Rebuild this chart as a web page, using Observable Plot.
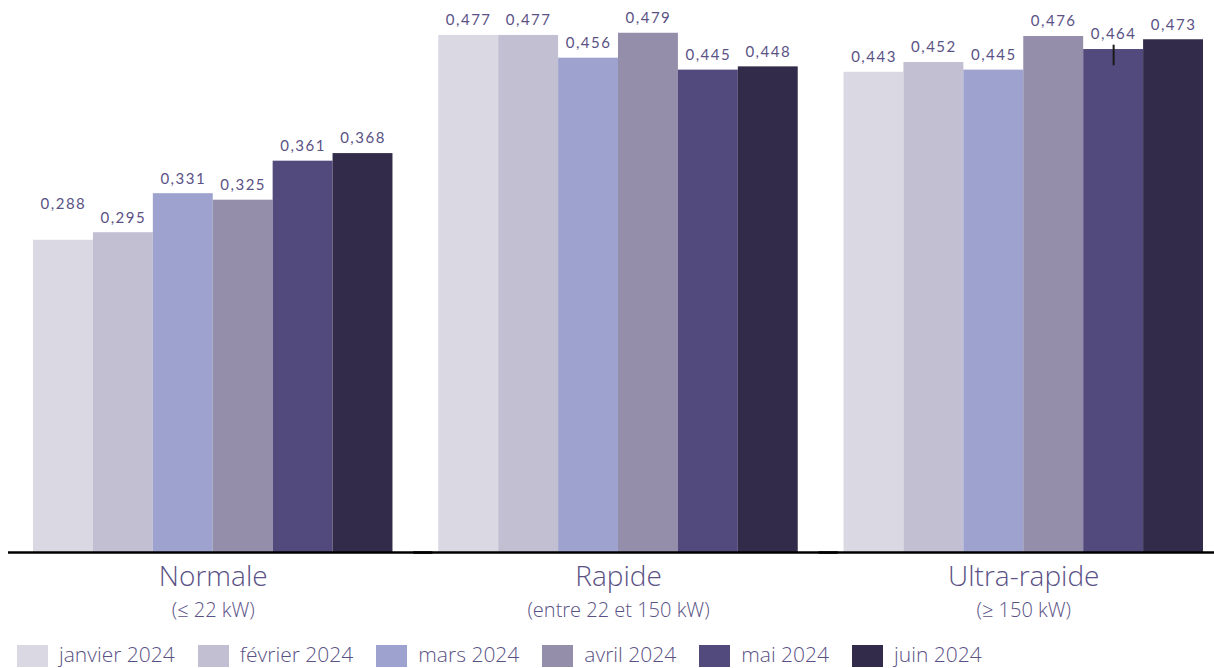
<!DOCTYPE html>
<html><head><meta charset="utf-8">
<script src="https://cdn.jsdelivr.net/npm/d3@7"></script>
<script src="https://cdn.jsdelivr.net/npm/@observablehq/plot@0.6"></script>
<style>
body{margin:0;background:#fff;font-family:"Open Sans",Lato,sans-serif;overflow:hidden;}
#legend{display:flex;align-items:center;height:22px;margin:23px 0 0 17px;color:#5a5285;font-size:21px;font-weight:300;line-height:22px;}
#legend .item{display:flex;align-items:center;margin-right:23px;}
#legend .sw{width:31px;height:22px;margin-right:11px;}
#legend span{position:relative;top:-2px;}
</style></head>
<body>
<div id="chart"></div>
<div id="legend"></div>
<script>
const categories = ["Normale", "Rapide", "Ultra-rapide"];
const subtitles = ["(≤ 22 kW)", "(entre 22 et 150 kW)", "(≥ 150 kW)"];
const months = ["janvier 2024", "février 2024", "mars 2024", "avril 2024", "mai 2024", "juin 2024"];
const colors = ["#dad8e3", "#c2bfd3", "#9da2cf", "#948eab", "#524a7d", "#322c4a"];
const janvier = [0.288, 0.477, 0.443];
const fevrier = [0.295, 0.477, 0.452];
const mars = [0.331, 0.456, 0.445];
const avril = [0.325, 0.479, 0.476];
const mai = [0.361, 0.445, 0.464];
const juin = [0.368, 0.448, 0.473];
const series = [janvier, fevrier, mars, avril, mai, juin];
// stray error-bar tick in the source (Ultra-rapide, mai 2024)
const errorTick = [{cat: "Ultra-rapide", month: "mai 2024", lo: 0.449, hi: 0.468}];

const data = [];
months.forEach((m, i) => categories.forEach((c, j) => data.push({cat: c, month: m, value: series[i][j]})));
const fmt = v => v.toFixed(3).replace(".", ",");
const textColor = "#5a5285";

const chart = Plot.plot({
  width: 1214, height: 622,
  marginLeft: 33, marginRight: 11, marginTop: 10, marginBottom: 70,
  style: {fontFamily: "'Open Sans', Lato, sans-serif", overflow: "visible"},
  fx: {domain: categories, paddingInner: 0.113, paddingOuter: 0, round: false, axis: null},
  x: {domain: months, padding: 0, round: false, axis: null},
  y: {domain: [0, 0.5], axis: null},
  color: {domain: months, range: colors},
  marks: [
    Plot.barY(data, {fx: "cat", x: "month", y: "value", fill: "month"}),
    Plot.text(data.filter(d => !(d.cat === "Normale" && d.month === "janvier 2024")), {fx: "cat", x: "month", y: "value", text: d => fmt(d.value), dy: -15, fontSize: 15, fill: textColor, fontFamily: "Lato"}),
    Plot.text(data.filter(d => d.cat === "Normale" && d.month === "janvier 2024"), {fx: "cat", x: "month", y: "value", text: d => fmt(d.value), dy: -36, fontSize: 15, fill: textColor, fontFamily: "Lato"}),
    Plot.ruleX(errorTick, {fx: "cat", x: "month", y1: "lo", y2: "hi", stroke: "#1a1a1a", strokeWidth: 2}),
    Plot.ruleY([0], {stroke: "#000", strokeWidth: 2.5, insetLeft: -25, insetRight: -40}),
    Plot.text(categories, {fx: d => d, text: d => d, frameAnchor: "bottom", dy: 33, fontSize: 28, fontWeight: 300, fill: textColor}),
    Plot.text(categories, {fx: d => d, text: (d, i) => subtitles[i], frameAnchor: "bottom", dy: 64, fontSize: 20, fontWeight: 300, fill: textColor})
  ]
});
document.getElementById("chart").appendChild(chart);
d3.select(chart).selectAll("text").filter(function(){return /^0,/.test(this.textContent);}).style("letter-spacing", "1.5px");

const legend = document.getElementById("legend");
months.forEach((m, i) => {
  const it = document.createElement("div"); it.className = "item";
  const sw = document.createElement("div"); sw.className = "sw"; sw.style.background = colors[i];
  const t = document.createElement("span"); t.textContent = m;
  it.appendChild(sw); it.appendChild(t); legend.appendChild(it);
});
</script>
</body></html>
